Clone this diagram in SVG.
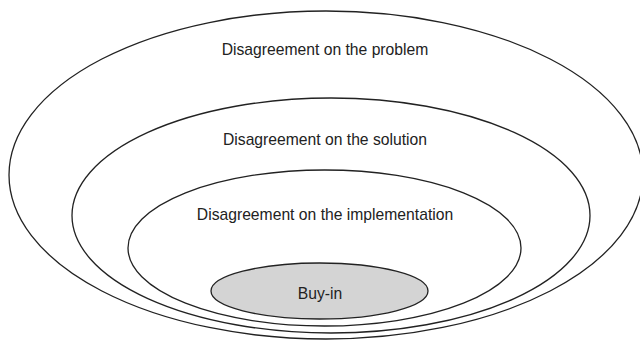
<svg xmlns="http://www.w3.org/2000/svg" width="640" height="342" viewBox="0 0 640 342">
<style>
.ring{fill:none;stroke:#222;stroke-width:1.3}
.core{fill:#d4d4d4;stroke:#222;stroke-width:1.3}
text{font-family:"Liberation Sans",Arial,sans-serif;font-size:15.7px;fill:#222;text-anchor:middle}
</style>
<rect width="640" height="342" fill="#fff"/>
<g id="problem">
<ellipse class="ring" cx="326" cy="175" rx="317" ry="164"/>
<text x="325" y="55">Disagreement on the problem</text>
</g>
<g id="solution">
<ellipse class="ring" cx="331" cy="215.5" rx="259" ry="117.5"/>
<text x="325" y="145">Disagreement on the solution</text>
</g>
<g id="implementation">
<ellipse class="ring" cx="324.5" cy="248" rx="196.5" ry="78"/>
<text x="325" y="220">Disagreement on the implementation</text>
</g>
<g id="buyin">
<ellipse class="core" cx="319.5" cy="291" rx="108.5" ry="28"/>
<text x="320" y="299">Buy-in</text>
</g>
<g id="connectors"/>
</svg>
